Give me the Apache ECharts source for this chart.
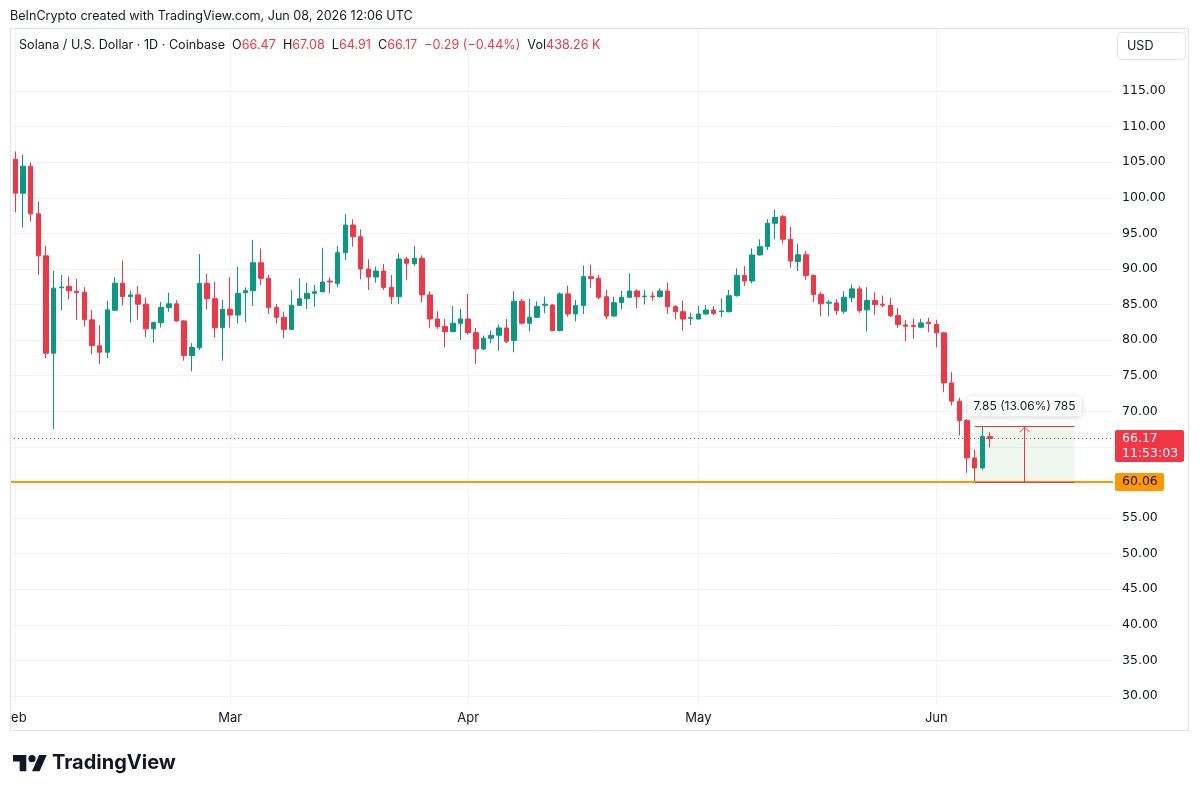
<!DOCTYPE html>
<html lang="en">
<head>
<meta charset="UTF-8">
<title>SOLUSD 1D</title>
<script src="https://cdn.jsdelivr.net/npm/echarts@6/dist/echarts.min.js"></script>
<style>
  html, body { margin: 0; padding: 0; background: #fff; }
  #main { width: 1200px; height: 795px; }
</style>
</head>
<body>
<div id="main"></div>
<script type="text/javascript">
// daily candles, Jan 31 .. Jun 08 2026 (day index: Feb 1 = 0)
var opens = [
    117.5, 105.42, 100.64, 104.44, 97.74, 91.84, 78.16, 87.35, 87.53, 86.87,
    86.69, 82.85, 79.2, 78.3, 84.2, 88.0, 86.1, 86.36, 85.05, 81.58,
    82.47, 84.6, 85.1, 82.7, 77.83, 78.93, 87.97, 85.82, 81.74, 84.32,
    83.52, 86.66, 86.94, 90.88, 88.68, 84.6, 83.2, 81.51, 84.88, 85.82,
    86.57, 86.8, 88.3, 87.97, 92.28, 96.17, 94.53, 89.99, 88.86, 89.71,
    87.41, 86.1, 91.4, 90.75, 91.5, 86.35, 82.97, 81.9, 81.19, 82.37,
    82.97, 81.05, 78.76, 80.26, 80.68, 81.71, 79.93, 85.46, 82.37, 83.21,
    84.9, 84.94, 81.33, 86.49, 83.68, 84.85, 88.92, 88.68, 86.1, 83.38,
    85.26, 86.01, 86.9, 86.1, 86.19, 86.1, 86.9, 84.7, 83.99, 83.06,
    82.96, 83.67, 84.23, 83.99, 83.99, 86.24, 89.1, 88.3, 91.96, 93.13,
    96.41, 97.34, 94.16, 91.05, 91.99, 89.09, 86.42, 85.19, 85.23, 84.06,
    85.94, 87.2, 84.25, 85.56, 85.05, 84.86, 83.45, 82.14, 82.05, 81.81,
    82.52, 82.19, 81.02, 73.99, 71.42, 68.7, 63.45, 62.05, 66.47
];
var closes = [
    105.4, 100.64, 104.44, 97.74, 91.84, 78.16, 87.3, 87.45, 86.92, 86.69,
    82.85, 79.24, 78.3, 84.25, 88.0, 86.12, 86.35, 85.05, 81.58, 82.47,
    84.58, 85.1, 82.7, 77.83, 78.96, 87.97, 85.82, 81.74, 84.32, 83.52,
    86.57, 86.94, 90.88, 88.68, 84.6, 83.2, 81.51, 84.88, 85.82, 86.57,
    86.8, 88.16, 88.16, 92.28, 96.17, 94.53, 89.99, 88.86, 89.71, 87.41,
    86.1, 91.39, 90.8, 91.5, 86.35, 82.97, 81.9, 81.19, 82.37, 82.97,
    81.05, 78.76, 80.26, 80.68, 81.71, 79.84, 85.46, 82.37, 83.21, 84.71,
    85.05, 81.33, 86.49, 83.68, 84.85, 88.92, 88.64, 86.01, 83.38, 85.26,
    86.01, 86.9, 86.1, 86.19, 86.1, 86.9, 84.7, 83.99, 82.96, 83.15,
    83.67, 84.23, 83.76, 84.09, 86.24, 89.1, 88.3, 91.96, 93.13, 96.41,
    97.25, 94.16, 91.11, 91.99, 89.09, 86.42, 85.1, 85.33, 84.16, 86.03,
    87.2, 84.16, 85.56, 85.0, 84.91, 83.45, 82.19, 81.96, 81.91, 82.42,
    82.33, 81.02, 73.99, 71.42, 68.7, 63.45, 62.05, 66.45, 66.17
];
var highs = [
    118.3, 106.5, 106.03, 104.95, 99.47, 93.24, 89.73, 89.17, 88.94, 88.61,
    87.44, 84.25, 82.1, 85.52, 88.84, 91.18, 86.97, 87.62, 85.98, 82.6,
    85.38, 86.69, 85.61, 82.8, 79.57, 92.1, 89.29, 88.21, 85.63, 88.82,
    90.32, 87.41, 94.06, 92.89, 89.15, 85.07, 84.0, 87.04, 88.68, 88.07,
    87.74, 92.98, 88.82, 93.22, 97.72, 96.97, 95.56, 91.35, 90.32, 90.69,
    89.15, 92.19, 91.7, 93.2, 91.9, 86.86, 84.05, 82.97, 84.8, 84.38,
    86.49, 81.71, 80.63, 81.33, 82.18, 82.97, 86.86, 85.78, 85.78, 85.46,
    86.11, 85.08, 86.72, 87.66, 85.64, 90.47, 90.61, 89.15, 87.04, 86.1,
    86.94, 89.38, 87.13, 87.04, 86.8, 87.27, 88.07, 84.93, 85.54, 83.85,
    84.79, 84.93, 84.79, 85.87, 87.04, 90.08, 90.41, 92.89, 94.16, 96.97,
    98.37, 97.58, 95.94, 93.54, 92.51, 89.23, 86.8, 85.66, 85.8, 86.87,
    87.81, 87.58, 87.44, 86.73, 86.26, 85.94, 84.53, 82.85, 82.99, 82.99,
    83.13, 82.85, 81.1, 75.49, 71.89, 68.93, 64.63, 67.91, 67.08
];
var lows = [
    104.8, 97.97, 95.82, 96.66, 89.17, 77.46, 67.48, 84.16, 85.75, 82.85,
    81.91, 78.02, 76.66, 77.46, 84.1, 84.86, 82.47, 82.85, 80.41, 79.66,
    81.77, 84.0, 82.6, 77.13, 75.63, 78.61, 84.32, 80.34, 77.11, 81.74,
    82.35, 82.49, 84.79, 87.74, 83.67, 82.35, 80.25, 81.4, 84.8, 84.32,
    84.7, 86.7, 86.57, 87.41, 91.25, 93.13, 88.54, 87.04, 88.07, 87.04,
    85.07, 85.07, 88.4, 90.4, 85.3, 81.7, 81.57, 78.99, 81.1, 80.02,
    80.77, 76.65, 78.6, 79.56, 78.52, 79.56, 78.29, 82.18, 81.24, 83.1,
    83.77, 81.24, 81.2, 83.3, 82.65, 83.68, 87.33, 85.73, 82.92, 83.29,
    84.32, 85.95, 84.46, 85.02, 85.54, 85.96, 83.67, 82.92, 81.32, 82.12,
    82.9, 83.52, 83.52, 83.2, 83.9, 86.1, 87.6, 87.97, 91.9, 92.66,
    94.16, 93.59, 90.18, 89.7, 88.48, 85.34, 83.36, 83.36, 83.55, 83.69,
    85.33, 83.83, 81.25, 83.55, 84.63, 83.22, 81.72, 79.85, 80.18, 81.72,
    81.11, 79.0, 72.68, 70.81, 66.59, 61.35, 60.06, 61.81, 64.91
];
var firstDay = -1; // Jan 31

var monthStarts = [0, 28, 59, 89, 120];
var monthLabels = ['Feb', 'Mar', 'Apr', 'May', 'Jun'];
var priceTicks = [30, 35, 40, 45, 50, 55, 60, 65, 70, 75, 80, 85, 90, 95, 100, 105, 110, 115];

var lastPrice = 66.17;
var countdown = '11:53:03';
var supportPrice = 60.06;
var measureFrom = 125, measureTo = 138, measureTop = 67.91;
var measureText = '7.85 (13.06%) 785';

var RED = '#f23645', GREEN = '#089981', TEXT = '#131722', GRID = '#f0f3fa', ORANGE = '#ff9800';
var FONT = 'Inter, "Noto Sans", sans-serif';
var NUMFONT = '"DejaVu Sans", sans-serif';

var candles = opens.map(function (o, i) {
    return [firstDay + i, o, closes[i], lows[i], highs[i]];
});

var chart = echarts.init(document.getElementById('main'));

var option = {
    animation: false,
    backgroundColor: '#fff',
    textStyle: { fontFamily: FONT },
    grid: { left: 10, right: 87, top: 29, bottom: 90 },
    xAxis: {
        type: 'value',
        min: -0.69,
        max: 143.02,
        axisLine: { show: false },
        axisTick: { show: false, customValues: monthStarts },
        axisLabel: {
            customValues: monthStarts,
            formatter: function (v) { return monthLabels[monthStarts.indexOf(v)]; },
            color: TEXT, fontSize: 13, margin: 7, fontFamily: FONT
        },
        splitLine: { show: true, lineStyle: { color: GRID } }
    },
    yAxis: {
        type: 'value',
        position: 'right',
        min: 28.735,
        max: 123.711,
        axisLine: { show: false },
        axisTick: { show: false, customValues: priceTicks },
        axisLabel: {
            customValues: priceTicks,
            formatter: function (v) { return v.toFixed(2); },
            color: TEXT, fontSize: 12.5, margin: 9, align: 'left', fontFamily: NUMFONT
        },
        splitLine: { show: true, lineStyle: { color: GRID } }
    },
    series: [{
        type: 'candlestick',
        data: candles,
        dimensions: ['day', 'open', 'close', 'lowest', 'highest'],
        encode: { x: 'day', y: ['open', 'close', 'lowest', 'highest'] },
        barWidth: 5,
        clip: true,
        silent: true,
        itemStyle: {
            color: GREEN, color0: RED,
            borderColor: GREEN, borderColor0: RED,
            borderWidth: 1
        },
        markArea: {
            silent: true,
            itemStyle: { color: 'rgba(76,175,80,0.09)' },
            data: [[
                { coord: [measureFrom, supportPrice] },
                { coord: [measureTo, measureTop] }
            ]]
        },
        markLine: {
            silent: true,
            symbol: ['none', 'none'],
            label: { show: false },
            data: [
                { yAxis: lastPrice, lineStyle: { color: RED, type: [1, 3], width: 1 } },
                { yAxis: supportPrice, lineStyle: { color: ORANGE, type: 'solid', width: 2 } },
                [
                    { coord: [measureFrom, measureTop], lineStyle: { color: RED, type: 'solid', width: 1 } },
                    { coord: [measureTo, measureTop] }
                ],
                [
                    { coord: [measureFrom, supportPrice], lineStyle: { color: RED, type: 'solid', width: 1 } },
                    { coord: [measureTo, supportPrice] }
                ],
                [
                    { coord: [(measureFrom + measureTo) / 2, supportPrice], lineStyle: { color: RED, type: 'solid', width: 1 } },
                    { coord: [(measureFrom + measureTo) / 2, measureTop] }
                ]
            ]
        }
    }]
};
chart.setOption(option);

// annotations placed through the axes
var py = function (p) { return chart.convertToPixel({ yAxisIndex: 0 }, p); };
var px = function (d) { return chart.convertToPixel({ xAxisIndex: 0 }, d); };
var yLast = py(lastPrice), ySup = py(supportPrice), yTop = py(measureTop);
var xMid = px((measureFrom + measureTo) / 2);

// TradingView mark, 36x28 box scaled into the footer
var logoPt = function (pts) {
    return pts.map(function (p) { return [13 + p[0] * 0.95, 751.5 + p[1] * 0.9]; });
};

chart.setOption({
    graphic: [
        // hide the part of the first month label that sits outside the pane
        { type: 'rect', z: 90, shape: { x: 0, y: 706, width: 10, height: 24 }, style: { fill: '#fff' } },
        // frame
        { type: 'rect', z: 95, shape: { x: 10.5, y: 28.5, width: 1178, height: 702 },
          style: { fill: 'none', stroke: '#e0e3eb', lineWidth: 1 } },
        // header
        { type: 'text', z: 100, x: 10, y: 16,
          style: { text: 'BeInCrypto created with TradingView.com, Jun 08, 2026 12:06 UTC',
                   font: '12.6px ' + FONT, fill: TEXT, verticalAlign: 'middle' } },
        { type: 'text', z: 100, x: 19, y: 45,
          style: {
              text: '{d|Solana / U.S. Dollar · 1D · Coinbase}  {d|O}{r|66.47}  {d|H}{r|67.08}  {d|L}{r|64.91}  {d|C}{r|66.17}  {r|−0.29 (−0.44%)}  {d|Vol}{r|438.26 K}',
              font: '12.6px ' + FONT, fill: TEXT, verticalAlign: 'middle',
              rich: {
                  d: { fill: TEXT, fontSize: 12.6, fontFamily: FONT },
                  r: { fill: RED, fontSize: 12.6, fontFamily: FONT }
              }
          } },
        // currency box
        { type: 'rect', z: 100, shape: { x: 1117.5, y: 32.5, width: 68, height: 27, r: 4 },
          style: { fill: '#fff', stroke: '#e0e3eb', lineWidth: 1 } },
        { type: 'text', z: 101, x: 1127, y: 46,
          style: { text: 'USD', font: '12.6px ' + FONT, fill: TEXT, verticalAlign: 'middle' } },
        // last price label
        { type: 'rect', z: 100, shape: { x: 1115, y: yLast - 8.5, width: 69, height: 32, r: 2 },
          style: { fill: RED } },
        { type: 'text', z: 101, x: 1122, y: yLast,
          style: { text: lastPrice.toFixed(2), font: '12.5px ' + NUMFONT, fill: '#fff', verticalAlign: 'middle' } },
        { type: 'text', z: 101, x: 1122, y: yLast + 15.5,
          style: { text: countdown, font: '12.5px ' + NUMFONT, fill: '#fff', verticalAlign: 'middle' } },
        // support label
        { type: 'rect', z: 100, shape: { x: 1115, y: ySup - 9, width: 49, height: 18, r: 2 },
          style: { fill: ORANGE } },
        { type: 'text', z: 101, x: 1122, y: ySup,
          style: { text: supportPrice.toFixed(2), font: '12.5px ' + NUMFONT, fill: TEXT, verticalAlign: 'middle' } },
        // measure arrow head + label
        { type: 'polyline', z: 100, shape: { points: [[xMid - 5, yTop + 6], [xMid, yTop + 1], [xMid + 5, yTop + 6]] },
          style: { stroke: RED, lineWidth: 1, fill: 'none' } },
        { type: 'rect', z: 100, shape: { x: xMid - 57, y: yTop - 30, width: 114, height: 20, r: 4 },
          style: { fill: '#fff', shadowBlur: 6, shadowColor: 'rgba(0,0,0,0.18)', shadowOffsetY: 1 } },
        { type: 'text', z: 101, x: xMid, y: yTop - 20,
          style: { text: measureText, font: '12px ' + FONT, fill: TEXT, align: 'center', verticalAlign: 'middle' } },
        // TradingView logo
        { type: 'polygon', z: 100,
          shape: { points: logoPt([[14, 22], [7, 22], [7, 11], [0, 11], [0, 4], [14, 4]]) },
          style: { fill: TEXT } },
        { type: 'polygon', z: 100,
          shape: { points: logoPt([[28, 22], [20, 22], [27.5, 4], [35.5, 4]]) },
          style: { fill: TEXT } },
        { type: 'circle', z: 100, shape: { cx: 13 + 20 * 0.95, cy: 751.5 + 8 * 0.9, r: 3.6 },
          style: { fill: TEXT } },
        { type: 'text', z: 100, x: 52, y: 763,
          style: { text: 'TradingView', font: 'bold 20px ' + FONT, fill: TEXT, verticalAlign: 'middle' } }
    ]
});
</script>
</body>
</html>
